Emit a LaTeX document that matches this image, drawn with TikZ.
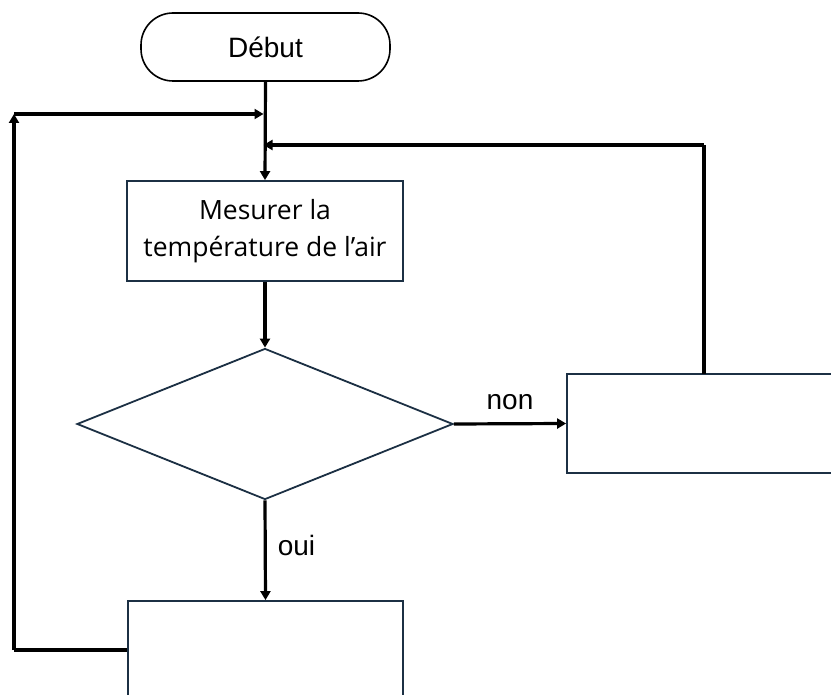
\documentclass[tikz,border=0pt]{standalone}
\usepackage{fontspec}
\setmainfont{Liberation Sans}
\newfontfamily\boxfont{Open Sans}
\usetikzlibrary{shapes.geometric,arrows.meta}
\definecolor{boxcol}{RGB}{28,48,68}
\tikzset{
  conn/.style={line width=3.2pt,black,-{Triangle[length=9pt,width=10pt]}},
  plainconn/.style={line width=3.2pt,black},
  procbox/.style={draw=boxcol,line width=1.8pt,fill=white,rectangle,inner sep=0pt},
  termbox/.style={draw=black,line width=1.6pt,rectangle,rounded corners=32pt,inner sep=0pt,
     minimum width=249pt,minimum height=68pt,font=\fontsize{28}{32}\selectfont},
  decbox/.style={draw=boxcol,line width=1.8pt,diamond,inner sep=0pt,minimum width=376pt,minimum height=151pt},
  lbl/.style={font=\fontsize{28}{32}\selectfont,inner sep=0pt}
}
\begin{document}
\begin{tikzpicture}[x=1pt,y=-1pt]
\useasboundingbox (0,0) rectangle (831,695);
\clip (0,0) rectangle (831,695);
\fill[white] (0,0) rectangle (831,695);
\node[termbox] (start) at (265.5,47) {Début};
\node[procbox,minimum width=276pt,minimum height=100pt,
      align=center,font=\boxfont\fontsize{26.5}{37}\selectfont] (measure) at (265,231)
      {Mesurer la\\température de l’air};
\node[decbox] (dec) at (265,424) {};
\node[procbox,minimum width=290pt,minimum height=99pt] (rbox) at (712,423.5) {};
\node[procbox,minimum width=275pt,minimum height=100pt] (bbox) at (265.5,651) {};
\coordinate (j1) at (265,114);
\coordinate (j2) at (265,145);
\coordinate (lb) at (14,650);
\coordinate (lt) at (14,114);
\coordinate (rt) at (704,145);
\coordinate (rb) at (704,374);
\draw[conn] (start.south) -- (measure.north);
\draw[conn] (measure.south) -- (dec.north);
\draw[conn] (dec.east) -- node[lbl,above=12pt] {non} (rbox.west);
\draw[conn] (dec.south) -- node[lbl,right=11pt,pos=0.45] {oui} (bbox.north);
\draw[plainconn] (bbox.west |- lb) -- (lb);
\draw[conn] (lb) -- (lt);
\draw[conn,shorten >=1.5pt] (lt) -- (j1);
\draw[plainconn] (rb) -- (rt);
\draw[conn,shorten >=-1.5pt] (rt) -- (j2);
\end{tikzpicture}
\end{document}
